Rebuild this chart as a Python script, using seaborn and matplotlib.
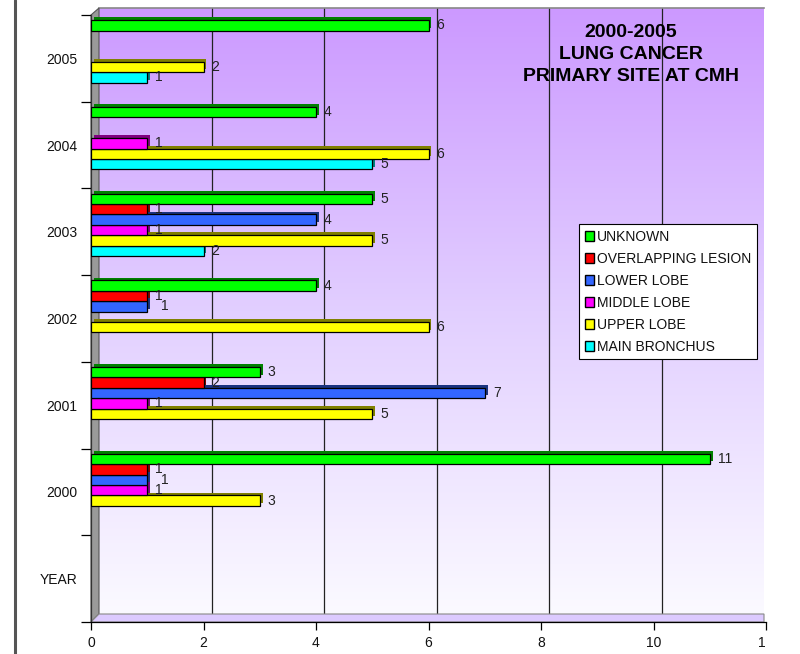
import numpy as np
import pandas as pd
import seaborn as sns
import matplotlib.pyplot as plt
import matplotlib.patches as mpatches
import matplotlib.lines as mlines
import matplotlib.patheffects as pe
import matplotlib.colors as mcolors
from matplotlib.transforms import Bbox

# data (top category first)
years = ['2005', '2004', '2003', '2002', '2001', '2000', 'YEAR']
sites = ['UNKNOWN', 'OVERLAPPING LESION', 'LOWER LOBE', 'MIDDLE LOBE', 'UPPER LOBE', 'MAIN BRONCHUS']
site_colors = ['#00FF00', '#FF0000', '#3366FF', '#FF00FF', '#FFFF00', '#00FFFF']
unknown = [6, 4, 5, 4, 3, 11, 0]
overlapping = [0, 0, 1, 1, 2, 1, 0]
lower_lobe = [0, 0, 4, 1, 7, 1, 0]
middle_lobe = [0, 1, 1, 0, 1, 1, 0]
upper_lobe = [2, 6, 5, 6, 5, 3, 0]
main_bronchus = [1, 5, 2, 0, 0, 0, 0]
xticks = [0, 2, 4, 6, 8, 10, 12]
title = '2000-2005\nLUNG CANCER\nPRIMARY SITE AT CMH'

series = dict(zip(sites, [unknown, overlapping, lower_lobe, middle_lobe, upper_lobe, main_bronchus]))
rows = []
for site, vals in series.items():
    for yr, v in zip(years, vals):
        if v > 0:
            rows.append({'year': yr, 'site': site, 'count': v})
df = pd.DataFrame(rows)

sns.set_style('white')
plt.rcParams['font.family'] = ['Liberation Sans', 'DejaVu Sans']
plt.rcParams['text.color'] = '#111111'
plt.rcParams['xtick.color'] = '#111111'
plt.rcParams['ytick.color'] = '#111111'

W, H = 800, 654
fig = plt.figure(figsize=(8, 6.54), dpi=100)

def px(l, t, r, b):
    return [l / W, 1 - b / H, (r - l) / W, (b - t) / H]

def fpt(x, y):
    return (x / W, 1 - y / H)

#Back wall with gradient and grid
back = fig.add_axes(px(99, 8, 764, 614), zorder=0)
bg = mcolors.LinearSegmentedColormap.from_list('bg', ['#CC99FF', '#E2CFFF', '#FBFAFF'])
grad = np.linspace(0, 1, 256)[:, None]
xmax_back = (764 - 99) / 56.3
back.imshow(grad, aspect='auto', cmap=bg, extent=[0, xmax_back, 0, 1], origin='upper')
back.set_xlim(0, xmax_back)
back.set_ylim(0, 1)
for v in xticks[1:-1]:
    back.axvline(v, color='#222222', lw=0.9)
back.set_xticks([])
back.set_yticks([])
for s in ['left', 'right', 'bottom']:
    back.spines[s].set_visible(False)
back.spines['top'].set_color('#888888')
back.spines['top'].set_linewidth(1.2)

#Side wall and floor
wall = mpatches.Polygon([fpt(91, 15), fpt(99, 8), fpt(99, 614), fpt(91, 622)], closed=True,
                        transform=fig.transFigure, facecolor='#9A9A9A', edgecolor='#555555', lw=0.8, zorder=1)
floor = mpatches.Polygon([fpt(91, 622), fpt(99, 614), fpt(764, 614), fpt(764, 622)], closed=True,
                         transform=fig.transFigure, facecolor='#DCCAFF', edgecolor='#888888', lw=0.8, zorder=1)
fig.add_artist(wall)
fig.add_artist(floor)

#Left frame line
fig.add_artist(mlines.Line2D([15 / W, 15 / W], [0, 1], transform=fig.transFigure, color='#555555', lw=2.2))

#Front axes with the bars
ax = fig.add_axes(px(91, 15, 766, 622), zorder=2)
ax.patch.set_alpha(0)
sns.barplot(data=df, x='count', y='year', hue='site', order=years, hue_order=sites,
            palette=dict(zip(sites, site_colors)), orient='h', width=0.72, saturation=1,
            edgecolor='black', linewidth=0.9, errorbar=None, legend=False, ax=ax)

labels = []
for i, cont in enumerate(ax.containers):
    for bar in cont:
        w = bar.get_width()
        if not np.isfinite(w) or w == 0:
            continue
        bar.set_y(bar.get_y() - 0.08)
        bar.set_zorder(10 - i)
        dark = tuple(np.array(mcolors.to_rgb(bar.get_facecolor())) * 0.5)
        bar.set_path_effects([pe.SimplePatchShadow(offset=(2, 2), shadow_rgbFace=dark, alpha=1.0),
                              pe.Normal()])
        labels.append((round(bar.get_y() + 0.08 - bar.get_height() / 2 * 0), i, w, bar))

# value labels; a label right under an equal one is nudged right, as in the source
placed = {}
for _, i, w, bar in labels:
    yc = bar.get_y() + bar.get_height() / 2
    cat = int(round(yc + 0.08))
    prev = placed.get((cat, i - 1))
    dx = 8
    if prev is not None and prev[0] == w and prev[1] == 8:
        dx = 14
    placed[(cat, i)] = (w, dx)
    ax.annotate(f'{int(w)}', xy=(w, yc), xytext=(dx, 0),
                textcoords='offset pixels', ha='left', va='center', fontsize=10,
                color='#222222', zorder=20)

ax.set_xlim(0, 12)
ax.set_ylim(6.5, -0.5)
ax.set_xticks(xticks)
ax.set_yticks(range(len(years)), years)
ax.set_yticks(np.arange(-0.5, len(years), 1), minor=True)
ax.tick_params(axis='y', which='major', length=0, pad=10, labelsize=10)
ax.tick_params(axis='y', which='minor', length=7, width=0.9, color='black', left=True)
ax.tick_params(axis='x', which='major', length=6, width=0.9, color='black', pad=4, labelsize=10, bottom=True)
ax.set_xlabel('')
ax.set_ylabel('')
ax.grid(False)
sns.despine(ax=ax, top=True, right=True)
ax.spines['left'].set_color('#333333')
ax.spines['bottom'].set_color('black')
ax.spines['left'].set_linewidth(0.9)
ax.spines['bottom'].set_linewidth(0.9)

# the source image is cut at the right edge
clip = Bbox.from_extents(0, 0, 765, H)
for lab in ax.get_xticklabels():
    lab.set_clip_on(True)
    lab.set_clip_box(clip)

handles = [mpatches.Patch(facecolor=c, edgecolor='black', label=s) for s, c in zip(sites, site_colors)]
leg = fig.legend(handles=handles, loc='upper left', bbox_to_anchor=(579 / W, 1 - 224 / H),
                 frameon=True, fancybox=False, edgecolor='black', framealpha=1, fontsize=10,
                 handlelength=0.7, handleheight=0.7, handletextpad=0.2, labelspacing=0.58,
                 borderpad=0.4, borderaxespad=0)
leg.get_frame().set_linewidth(0.8)
leg.set_zorder(30)

fig.text(631 / W, 1 - 24 / H, title, ha='center', va='top', fontsize=14, color='black',
         fontweight='bold', linespacing=1.38, zorder=30)

plt.savefig('out.png', dpi=100)
